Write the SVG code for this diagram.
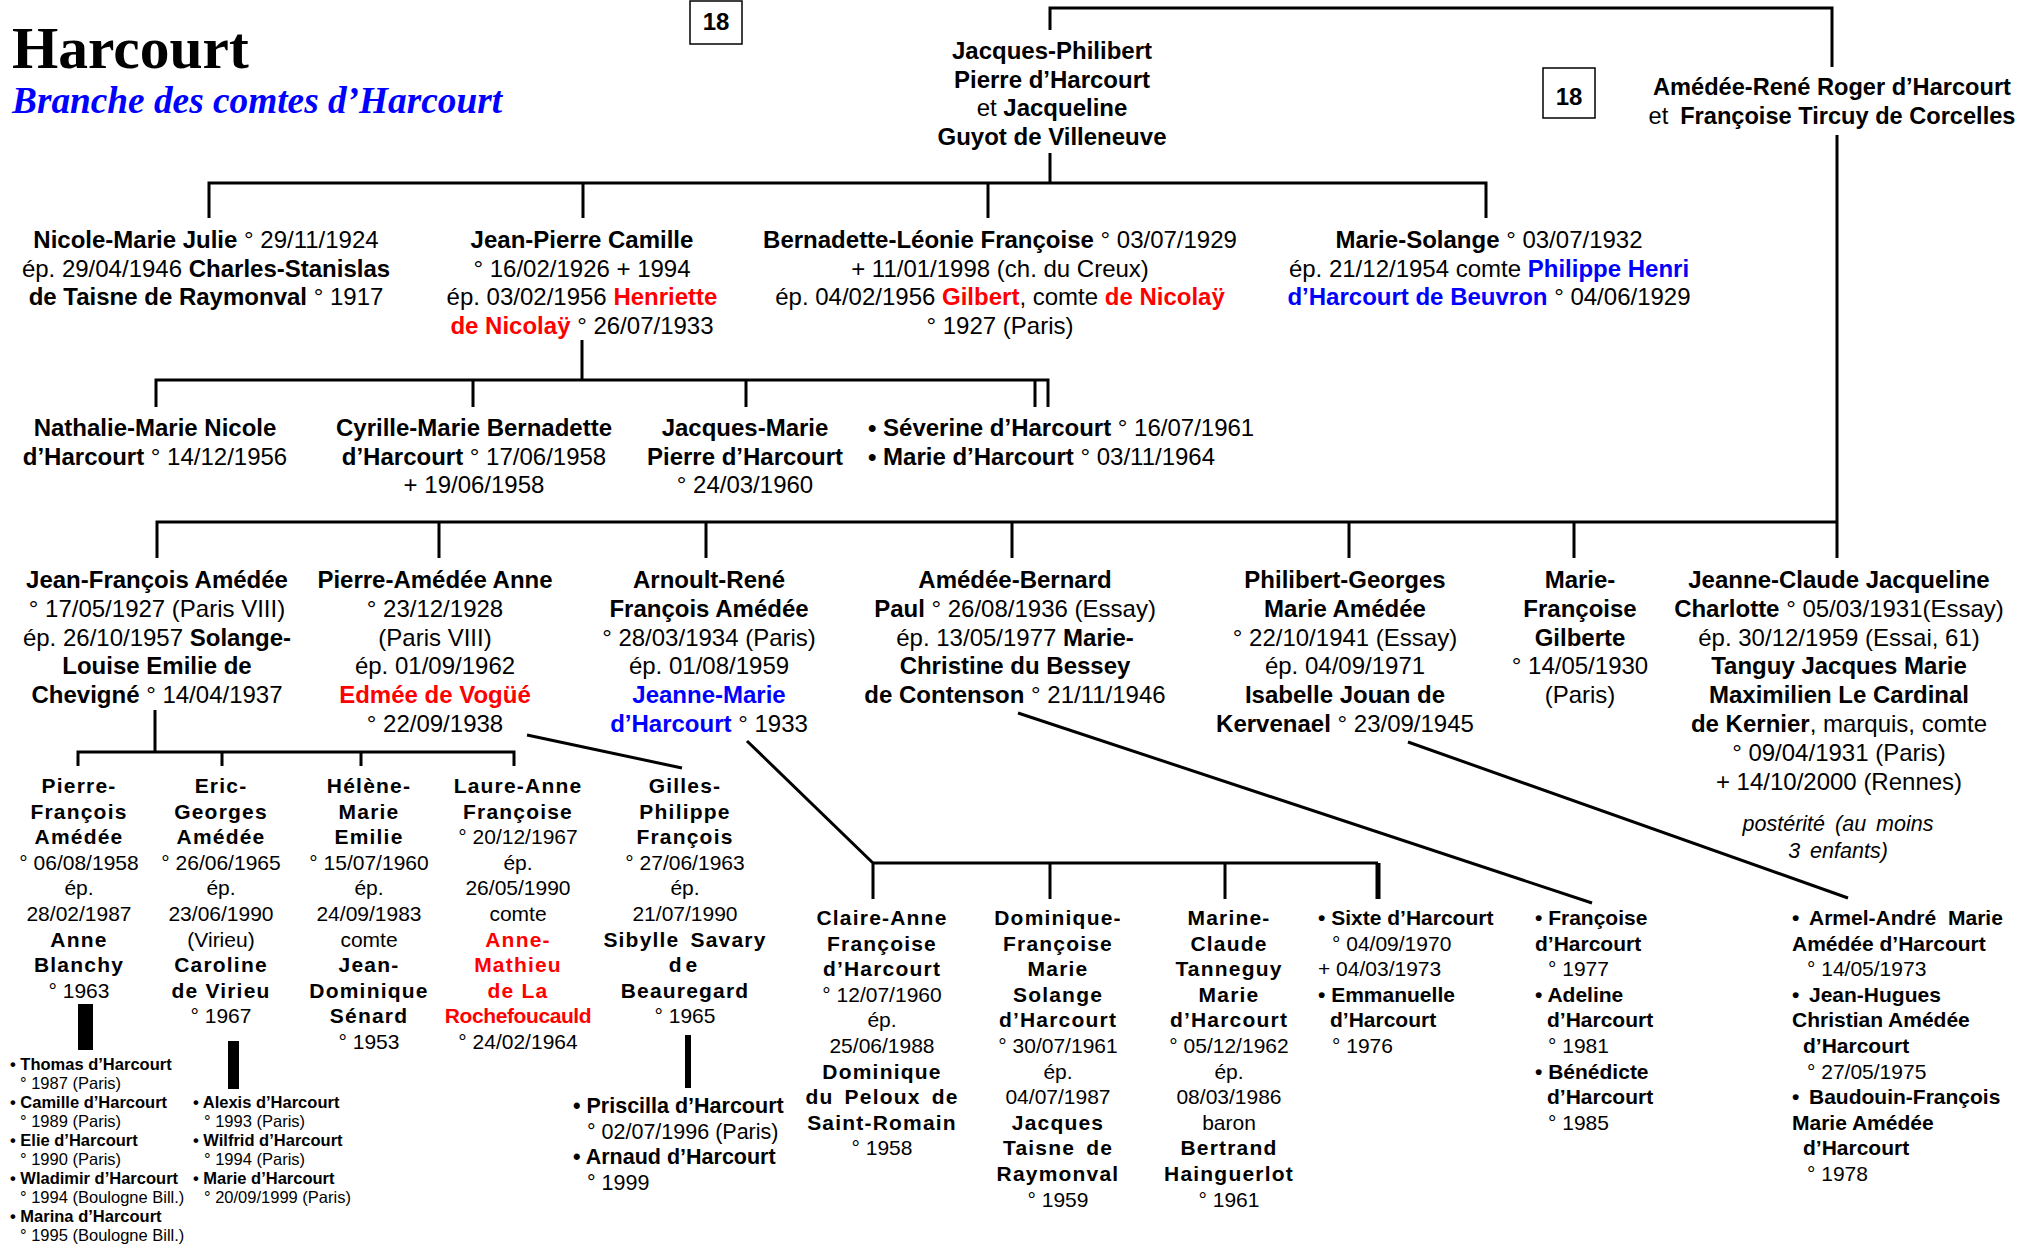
<svg xmlns="http://www.w3.org/2000/svg" width="2037" height="1248" viewBox="0 0 2037 1248">
<style>
text{font-family:"Liberation Sans",Arial,sans-serif;font-size:24px;fill:#000}
.m{text-anchor:middle}
.s{font-size:21px}
.xs{font-size:16.5px}
.b{font-weight:bold}
.r{fill:#FF0000}
.u{fill:#0000FF}
.ls{letter-spacing:1.2px}
.i{font-style:italic}
.c{stroke:#000;stroke-width:3;fill:none}
.box{stroke:#000;stroke-width:1.5;fill:#fff}
</style>
<rect width="2037" height="1248" fill="#fff"/>
<g id="title">
<text x="12" y="68" style="font-family:'Liberation Serif','Times New Roman',serif;font-size:59.5px;font-weight:bold">Harcourt</text>
<text x="12" y="113" style="font-family:'Liberation Serif','Times New Roman',serif;font-size:37.3px;font-weight:bold;font-style:italic;fill:#0000FF">Branche des comtes d’Harcourt</text>
</g>
<g id="connectors">
<path class="c" d="M1050,30 V8 H1832 V67"/>
<path class="c" d="M1050,153 V183 M209,218 V183 H1486 V218 M583,183 V218 M988,183 V218"/>
<path class="c" d="M1837,135 V558 M157,558 V522 H1837 M439,522 V558 M706,522 V558 M1012,522 V558 M1349,522 V558 M1574,522 V558"/>
<path class="c" d="M582,340 V380 M156,407 V380 H1048 V407 M473,380 V407 M746,380 V407 M1035,380 V407"/>
<path class="c" d="M155,710 V752 M78,766 V752 H514 V766 M222,752 V766 M361,752 V766"/>
<path class="c" d="M527,735 L682,768"/>
<path class="c" d="M747,741 L873,863 H1378 M873,863 V899 M1050,863 V899 M1225,863 V899"/>
<path d="M1378,863 V899" stroke="#000" stroke-width="5"/>
<path class="c" d="M1018,713 L1592,903"/>
<path class="c" d="M1408,742 L1848,898"/>
<rect x="78" y="1004" width="15" height="46" fill="#000"/>
<rect x="228" y="1041" width="11" height="48" fill="#000"/>
<rect x="685" y="1035" width="6" height="53" fill="#000"/>
</g>
<g id="ref18a"><rect class="box" x="690" y="1" width="52" height="43"/><text class="m b" x="716" y="30">18</text></g>
<g id="ref18b"><rect class="box" x="1543" y="68" width="52" height="50"/><text class="m b" x="1569" y="105">18</text></g>
<g id="n_jacquesphilibert"><text class="m" x="1052" y="59"><tspan class="b">Jacques-Philibert</tspan><tspan x="1052" dy="28.5" class="b">Pierre d’Harcourt</tspan><tspan x="1052" dy="28.5">et <tspan class="b">Jacqueline</tspan></tspan><tspan x="1052" dy="28.5" class="b">Guyot de Villeneuve</tspan></text></g>
<g id="n_amedeerene"><text class="m" x="1832" y="95" style="font-size:23.6px"><tspan class="b">Amédée-René Roger d’Harcourt</tspan><tspan x="1832" dy="29">et<tspan class="b" dx="12">Françoise Tircuy de Corcelles</tspan></tspan></text></g>
<g id="n_nicole"><text class="m" x="206" y="248"><tspan class="b">Nicole-Marie Julie</tspan> ° 29/11/1924<tspan x="206" dy="28.5">ép. 29/04/1946 <tspan class="b">Charles-Stanislas</tspan></tspan><tspan x="206" dy="28.5"><tspan class="b">de Taisne de Raymonval</tspan> ° 1917</tspan></text></g>
<g id="n_jeanpierre"><text class="m" x="582" y="248"><tspan class="b">Jean-Pierre Camille</tspan><tspan x="582" dy="28.5">° 16/02/1926 + 1994</tspan><tspan x="582" dy="28.5">ép. 03/02/1956 <tspan class="b r">Henriette</tspan></tspan><tspan x="582" dy="28.5"><tspan class="b r">de Nicolaÿ</tspan> ° 26/07/1933</tspan></text></g>
<g id="n_bernadette"><text class="m" x="1000" y="248"><tspan class="b">Bernadette-Léonie Françoise</tspan> ° 03/07/1929<tspan x="1000" dy="28.5">+ 11/01/1998 (ch. du Creux)</tspan><tspan x="1000" dy="28.5">ép. 04/02/1956 <tspan class="b r">Gilbert</tspan>, comte <tspan class="b r">de Nicolaÿ</tspan></tspan><tspan x="1000" dy="28.5">° 1927 (Paris)</tspan></text></g>
<g id="n_mariesolange"><text class="m" x="1489" y="248"><tspan class="b">Marie-Solange</tspan> ° 03/07/1932<tspan x="1489" dy="28.5">ép. 21/12/1954 comte <tspan class="b u">Philippe Henri</tspan></tspan><tspan x="1489" dy="28.5"><tspan class="b u">d’Harcourt de Beuvron</tspan> ° 04/06/1929</tspan></text></g>
<g id="n_nathalie"><text class="m" x="155" y="436"><tspan class="b">Nathalie-Marie Nicole</tspan><tspan x="155" dy="28.5"><tspan class="b">d’Harcourt</tspan> ° 14/12/1956</tspan></text></g>
<g id="n_cyrille"><text class="m" x="474" y="436"><tspan class="b">Cyrille-Marie Bernadette</tspan><tspan x="474" dy="28.5"><tspan class="b">d’Harcourt</tspan> ° 17/06/1958</tspan><tspan x="474" dy="28.5">+ 19/06/1958</tspan></text></g>
<g id="n_jacquesmarie"><text class="m" x="745" y="436"><tspan class="b">Jacques-Marie</tspan><tspan x="745" dy="28.5" class="b">Pierre d’Harcourt</tspan><tspan x="745" dy="28.5">° 24/03/1960</tspan></text></g>
<g id="n_severine"><text x="868" y="436"><tspan class="b">• Séverine d’Harcourt</tspan> ° 16/07/1961<tspan x="868" dy="28.5"><tspan class="b">• Marie d’Harcourt</tspan> ° 03/11/1964</tspan></text></g>
<g id="n_jeanfrancois"><text class="m" x="157" y="588"><tspan class="b">Jean-François Amédée</tspan><tspan x="157" dy="28.8">° 17/05/1927 (Paris VIII)</tspan><tspan x="157" dy="28.8">ép. 26/10/1957 <tspan class="b">Solange-</tspan></tspan><tspan x="157" dy="28.8" class="b">Louise Emilie de</tspan><tspan x="157" dy="28.8"><tspan class="b">Chevigné</tspan> ° 14/04/1937</tspan></text></g>
<g id="n_pierreamedee"><text class="m" x="435" y="588"><tspan class="b">Pierre-Amédée Anne</tspan><tspan x="435" dy="28.8">° 23/12/1928</tspan><tspan x="435" dy="28.8">(Paris VIII)</tspan><tspan x="435" dy="28.8">ép. 01/09/1962</tspan><tspan x="435" dy="28.8" class="b r">Edmée de Vogüé</tspan><tspan x="435" dy="28.8">° 22/09/1938</tspan></text></g>
<g id="n_arnoult"><text class="m" x="709" y="588"><tspan class="b">Arnoult-René</tspan><tspan x="709" dy="28.8" class="b">François Amédée</tspan><tspan x="709" dy="28.8">° 28/03/1934 (Paris)</tspan><tspan x="709" dy="28.8">ép. 01/08/1959</tspan><tspan x="709" dy="28.8" class="b u">Jeanne-Marie</tspan><tspan x="709" dy="28.8"><tspan class="b u">d’Harcourt</tspan> ° 1933</tspan></text></g>
<g id="n_amedeebernard"><text class="m" x="1015" y="588"><tspan class="b">Amédée-Bernard</tspan><tspan x="1015" dy="28.8"><tspan class="b">Paul</tspan> ° 26/08/1936 (Essay)</tspan><tspan x="1015" dy="28.8">ép. 13/05/1977 <tspan class="b">Marie-</tspan></tspan><tspan x="1015" dy="28.8" class="b">Christine du Bessey</tspan><tspan x="1015" dy="28.8"><tspan class="b">de Contenson</tspan> ° 21/11/1946</tspan></text></g>
<g id="n_philibert"><text class="m" x="1345" y="588"><tspan class="b">Philibert-Georges</tspan><tspan x="1345" dy="28.8" class="b">Marie Amédée</tspan><tspan x="1345" dy="28.8">° 22/10/1941 (Essay)</tspan><tspan x="1345" dy="28.8">ép. 04/09/1971</tspan><tspan x="1345" dy="28.8" class="b">Isabelle Jouan de</tspan><tspan x="1345" dy="28.8"><tspan class="b">Kervenael</tspan> ° 23/09/1945</tspan></text></g>
<g id="n_mariefrancoise"><text class="m" x="1580" y="588"><tspan class="b">Marie-</tspan><tspan x="1580" dy="28.8" class="b">Françoise</tspan><tspan x="1580" dy="28.8" class="b">Gilberte</tspan><tspan x="1580" dy="28.8">° 14/05/1930</tspan><tspan x="1580" dy="28.8">(Paris)</tspan></text></g>
<g id="n_jeanneclaude"><text class="m" x="1839" y="588"><tspan class="b">Jeanne-Claude Jacqueline</tspan><tspan x="1839" dy="28.8"><tspan class="b">Charlotte</tspan> ° 05/03/1931(Essay)</tspan><tspan x="1839" dy="28.8">ép. 30/12/1959 (Essai, 61)</tspan><tspan x="1839" dy="28.8" class="b">Tanguy Jacques Marie</tspan><tspan x="1839" dy="28.8" class="b">Maximilien Le Cardinal</tspan><tspan x="1839" dy="28.8"><tspan class="b">de Kernier</tspan>, marquis, comte</tspan><tspan x="1839" dy="28.8">° 09/04/1931 (Paris)</tspan><tspan x="1839" dy="28.8">+ 14/10/2000 (Rennes)</tspan></text>
<text class="m i" x="1838" y="831" style="font-size:21.5px;word-spacing:4px">postérité (au moins<tspan x="1838" dy="27">3 enfants)</tspan></text></g>
<g id="n_pierrefrancois"><text class="m s" x="79" y="793"><tspan class="b ls">Pierre-</tspan><tspan x="79" dy="25.6" class="b ls">François</tspan><tspan x="79" dy="25.6" class="b ls">Amédée</tspan><tspan x="79" dy="25.6">° 06/08/1958</tspan><tspan x="79" dy="25.6">ép.</tspan><tspan x="79" dy="25.6">28/02/1987</tspan><tspan x="79" dy="25.6" class="b ls">Anne</tspan><tspan x="79" dy="25.6" class="b ls">Blanchy</tspan><tspan x="79" dy="25.6">° 1963</tspan></text></g>
<g id="n_ericgeorges"><text class="m s" x="221" y="793"><tspan class="b ls">Eric-</tspan><tspan x="221" dy="25.6" class="b ls">Georges</tspan><tspan x="221" dy="25.6" class="b ls">Amédée</tspan><tspan x="221" dy="25.6">° 26/06/1965</tspan><tspan x="221" dy="25.6">ép.</tspan><tspan x="221" dy="25.6">23/06/1990</tspan><tspan x="221" dy="25.6">(Virieu)</tspan><tspan x="221" dy="25.6" class="b ls">Caroline</tspan><tspan x="221" dy="25.6" class="b ls">de Virieu</tspan><tspan x="221" dy="25.6">° 1967</tspan></text></g>
<g id="n_helene"><text class="m s" x="369" y="793"><tspan class="b ls">Hélène-</tspan><tspan x="369" dy="25.6" class="b ls">Marie</tspan><tspan x="369" dy="25.6" class="b ls">Emilie</tspan><tspan x="369" dy="25.6">° 15/07/1960</tspan><tspan x="369" dy="25.6">ép.</tspan><tspan x="369" dy="25.6">24/09/1983</tspan><tspan x="369" dy="25.6">comte</tspan><tspan x="369" dy="25.6" class="b ls">Jean-</tspan><tspan x="369" dy="25.6" class="b ls">Dominique</tspan><tspan x="369" dy="25.6" class="b ls">Sénard</tspan><tspan x="369" dy="25.6">° 1953</tspan></text></g>
<g id="n_laureanne"><text class="m s" x="518" y="793"><tspan class="b ls">Laure-Anne</tspan><tspan x="518" dy="25.6" class="b ls">Françoise</tspan><tspan x="518" dy="25.6">° 20/12/1967</tspan><tspan x="518" dy="25.6">ép.</tspan><tspan x="518" dy="25.6">26/05/1990</tspan><tspan x="518" dy="25.6">comte</tspan><tspan x="518" dy="25.6" class="b ls r">Anne-</tspan><tspan x="518" dy="25.6" class="b ls r">Mathieu</tspan><tspan x="518" dy="25.6" class="b ls r">de La</tspan><tspan x="518" dy="25.6" class="b r" style="letter-spacing:-0.4px">Rochefoucauld</tspan><tspan x="518" dy="25.6">° 24/02/1964</tspan></text></g>
<g id="n_gilles"><text class="m s" x="685" y="793"><tspan class="b ls">Gilles-</tspan><tspan x="685" dy="25.6" class="b ls">Philippe</tspan><tspan x="685" dy="25.6" class="b ls">François</tspan><tspan x="685" dy="25.6">° 27/06/1963</tspan><tspan x="685" dy="25.6">ép.</tspan><tspan x="685" dy="25.6">21/07/1990</tspan><tspan x="685" dy="25.6" class="b ls" style="word-spacing:4px">Sibylle Savary</tspan><tspan x="685" dy="25.6" class="b" style="letter-spacing:4px">de</tspan><tspan x="685" dy="25.6" class="b ls">Beauregard</tspan><tspan x="685" dy="25.6">° 1965</tspan></text></g>
<g id="n_kids_pierrefrancois"><text class="xs" x="10" y="1070"><tspan class="b">• Thomas d’Harcourt</tspan><tspan x="20" dy="19">° 1987 (Paris)</tspan><tspan x="10" dy="19" class="b">• Camille d’Harcourt</tspan><tspan x="20" dy="19">° 1989 (Paris)</tspan><tspan x="10" dy="19" class="b">• Elie d’Harcourt</tspan><tspan x="20" dy="19">° 1990 (Paris)</tspan><tspan x="10" dy="19" class="b">• Wladimir d’Harcourt</tspan><tspan x="20" dy="19">° 1994 (Boulogne Bill.)</tspan><tspan x="10" dy="19" class="b">• Marina d’Harcourt</tspan><tspan x="20" dy="19">° 1995 (Boulogne Bill.)</tspan></text></g>
<g id="n_kids_eric"><text class="xs" x="193" y="1108"><tspan class="b">• Alexis d’Harcourt</tspan><tspan x="204" dy="19">° 1993 (Paris)</tspan><tspan x="193" dy="19" class="b">• Wilfrid d’Harcourt</tspan><tspan x="204" dy="19">° 1994 (Paris)</tspan><tspan x="193" dy="19" class="b">• Marie d’Harcourt</tspan><tspan x="204" dy="19">° 20/09/1999 (Paris)</tspan></text></g>
<g id="n_kids_gilles"><text class="s" x="573" y="1113" style="font-size:21.5px"><tspan class="b">• Priscilla d’Harcourt</tspan><tspan x="587" dy="25.6">° 02/07/1996 (Paris)</tspan><tspan x="573" dy="25.6" class="b">• Arnaud d’Harcourt</tspan><tspan x="587" dy="25.6">° 1999</tspan></text></g>
<g id="n_claireanne"><text class="m s" x="882" y="925"><tspan class="b ls">Claire-Anne</tspan><tspan x="882" dy="25.6" class="b ls">Françoise</tspan><tspan x="882" dy="25.6" class="b ls">d’Harcourt</tspan><tspan x="882" dy="25.6">° 12/07/1960</tspan><tspan x="882" dy="25.6">ép.</tspan><tspan x="882" dy="25.6">25/06/1988</tspan><tspan x="882" dy="25.6" class="b ls">Dominique</tspan><tspan x="882" dy="25.6" class="b ls" style="word-spacing:4px">du Peloux de</tspan><tspan x="882" dy="25.6" class="b ls">Saint-Romain</tspan><tspan x="882" dy="25.6">° 1958</tspan></text></g>
<g id="n_dominique"><text class="m s" x="1058" y="925"><tspan class="b ls">Dominique-</tspan><tspan x="1058" dy="25.6" class="b ls">Françoise</tspan><tspan x="1058" dy="25.6" class="b ls">Marie</tspan><tspan x="1058" dy="25.6" class="b ls">Solange</tspan><tspan x="1058" dy="25.6" class="b ls">d’Harcourt</tspan><tspan x="1058" dy="25.6">° 30/07/1961</tspan><tspan x="1058" dy="25.6">ép.</tspan><tspan x="1058" dy="25.6">04/07/1987</tspan><tspan x="1058" dy="25.6" class="b ls">Jacques</tspan><tspan x="1058" dy="25.6" class="b ls" style="word-spacing:4px">Taisne de</tspan><tspan x="1058" dy="25.6" class="b ls">Raymonval</tspan><tspan x="1058" dy="25.6">° 1959</tspan></text></g>
<g id="n_marineclaude"><text class="m s" x="1229" y="925"><tspan class="b ls">Marine-</tspan><tspan x="1229" dy="25.6" class="b ls">Claude</tspan><tspan x="1229" dy="25.6" class="b ls">Tanneguy</tspan><tspan x="1229" dy="25.6" class="b ls">Marie</tspan><tspan x="1229" dy="25.6" class="b ls">d’Harcourt</tspan><tspan x="1229" dy="25.6">° 05/12/1962</tspan><tspan x="1229" dy="25.6">ép.</tspan><tspan x="1229" dy="25.6">08/03/1986</tspan><tspan x="1229" dy="25.6">baron</tspan><tspan x="1229" dy="25.6" class="b ls">Bertrand</tspan><tspan x="1229" dy="25.6" class="b ls">Hainguerlot</tspan><tspan x="1229" dy="25.6">° 1961</tspan></text></g>
<g id="n_sixte"><text class="s" x="1318" y="925"><tspan class="b">• Sixte d’Harcourt</tspan><tspan x="1332" dy="25.6">° 04/09/1970</tspan><tspan x="1318" dy="25.6">+ 04/03/1973</tspan><tspan x="1318" dy="25.6" class="b">• Emmanuelle</tspan><tspan x="1330" dy="25.6" class="b">d’Harcourt</tspan><tspan x="1332" dy="25.6">° 1976</tspan></text></g>
<g id="n_francoise"><text class="s" x="1535" y="925"><tspan class="b">• Françoise</tspan><tspan x="1535" dy="25.6" class="b">d’Harcourt</tspan><tspan x="1548" dy="25.6">° 1977</tspan><tspan x="1535" dy="25.6" class="b">• Adeline</tspan><tspan x="1547" dy="25.6" class="b">d’Harcourt</tspan><tspan x="1548" dy="25.6">° 1981</tspan><tspan x="1535" dy="25.6" class="b">• Bénédicte</tspan><tspan x="1547" dy="25.6" class="b">d’Harcourt</tspan><tspan x="1548" dy="25.6">° 1985</tspan></text></g>
<g id="n_armel"><text class="s b" x="1792" y="925"><tspan>•</tspan><tspan x="1809" style="word-spacing:6px">Armel-André Marie</tspan><tspan x="1792" dy="25.6">Amédée d’Harcourt</tspan><tspan x="1807" dy="25.6" style="font-weight:normal">° 14/05/1973</tspan><tspan x="1792" dy="25.6">•</tspan><tspan x="1809">Jean-Hugues</tspan><tspan x="1792" dy="25.6">Christian Amédée</tspan><tspan x="1803" dy="25.6">d’Harcourt</tspan><tspan x="1807" dy="25.6" style="font-weight:normal">° 27/05/1975</tspan><tspan x="1792" dy="25.6">•</tspan><tspan x="1809">Baudouin-François</tspan><tspan x="1792" dy="25.6">Marie Amédée</tspan><tspan x="1803" dy="25.6">d’Harcourt</tspan><tspan x="1807" dy="25.6" style="font-weight:normal">° 1978</tspan></text></g>
</svg>
